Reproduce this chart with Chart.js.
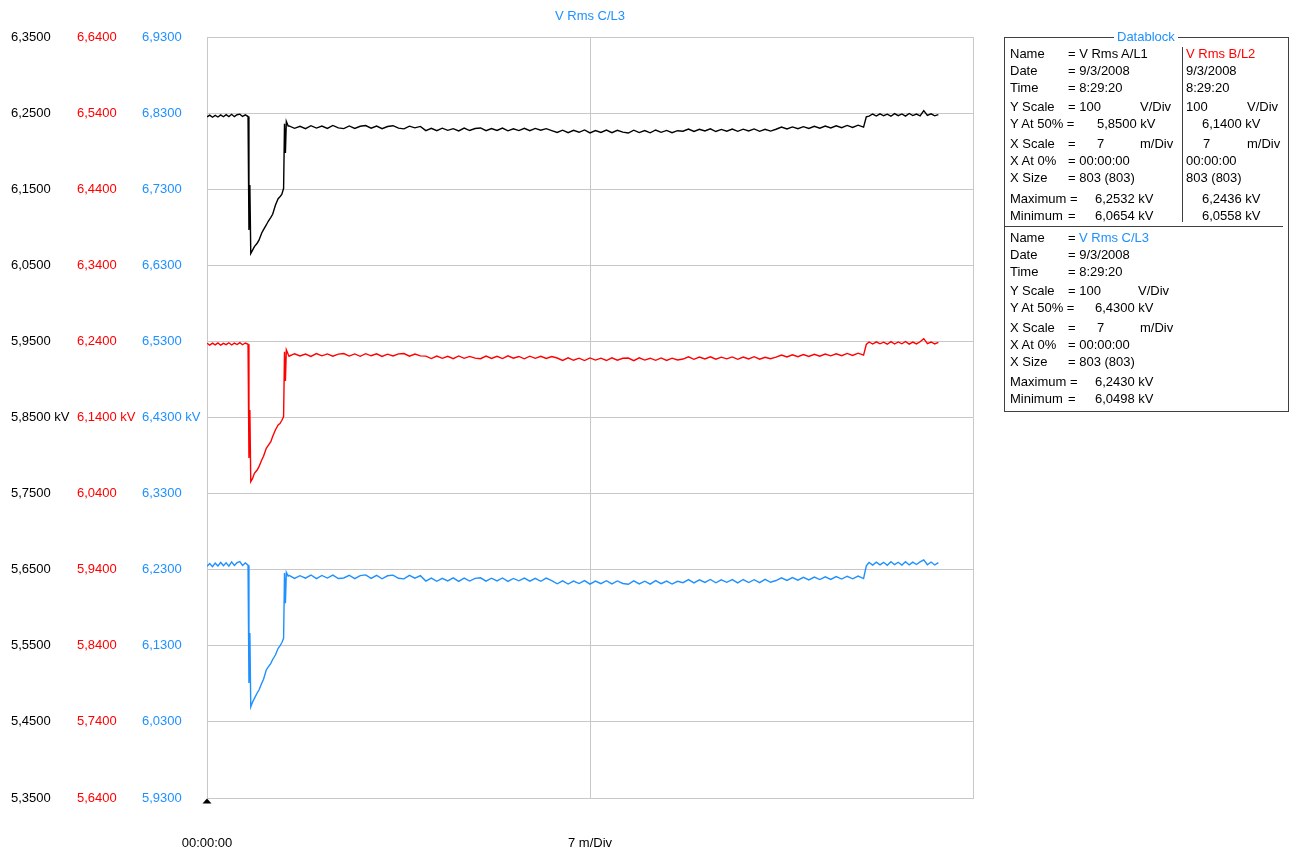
<!DOCTYPE html>
<html>
<head>
<meta charset="utf-8">
<script src="https://cdn.jsdelivr.net/npm/chart.js@4/dist/chart.umd.min.js"></script>
<style>
  html, body { margin: 0; padding: 0; background: #fff; }
  #wrap { position: relative; width: 1298px; height: 852px; }
  #c { position: absolute; left: 0; top: 0; }
  #db { position: absolute; left: 1004px; top: 37px; width: 285px; height: 375px;
        border: 1px solid #404040; box-sizing: border-box; }
  .t { position: absolute; font: 13px "Liberation Sans", Arial, sans-serif; line-height: 16px;
       white-space: nowrap; color: #000; }
  .hl { position: absolute; background: #404040; }
</style>
</head>
<body>
<div id="wrap">
  <canvas id="c" width="1298" height="852"></canvas>
  <div id="db"></div>
</div>
<script>
// ---- time axis (seconds from 00:00:00) ----
const seconds = [
  0,3,6,9,12,15,18,21,24,27,30,33,36,39,42,45,
  46,47,48,50,52,55,57,60,62,65,67,70,72,75,78,80,82,84,
  85,86,87,89,
  90,96,102,108,114,120,126,132,138,144,150,156,162,168,174,180,186,192,198,204,
  210,216,222,228,234,240,246,252,258,264,270,276,282,288,294,300,306,312,318,324,
  330,336,342,348,354,360,366,372,378,384,390,396,402,408,414,420,426,432,438,444,
  450,456,462,468,474,480,486,492,498,504,510,516,522,528,534,540,546,552,558,564,
  570,576,582,588,594,600,606,612,618,624,630,636,642,648,654,660,666,672,678,684,
  690,696,702,708,714,720,
  723,
  726,730,734,738,742,746,750,754,758,762,766,770,774,778,782,786,790,794,798,802
];

// ---- V Rms A/L1 (kV) ----
const voltsA = [
  6.2450,6.2474,6.2446,6.2470,6.2449,6.2477,6.2452,6.2479,6.2455,6.2484,6.2453,6.2478,6.2486,6.2456,6.2476,6.2455,
  6.0964,6.1555,6.0654,6.0700,6.0745,6.0790,6.0830,6.0925,6.0968,6.1030,6.1075,6.1130,6.1170,6.1290,6.1375,6.1400,6.1430,6.1512,
  6.2360,6.1976,6.2390,6.2330,
  6.2332,6.2300,6.2326,6.2296,6.2335,6.2303,6.2329,6.2298,6.2338,6.2305,
  6.2296,6.2331,6.2299,6.2327,6.2336,6.2301,6.2330,6.2295,6.2324,6.2334,
  6.2302,6.2293,6.2328,6.2306,6.2325,
  6.2270,6.2300,6.2268,6.2302,6.2274,6.2296,6.2266,6.2303,6.2271,6.2298,
  6.2305,6.2269,6.2297,6.2272,6.2304,6.2267,6.2294,6.2270,6.2301,6.2268,6.2299,6.2275,6.2296,6.2270,
  6.2245,6.2276,6.2242,6.2273,6.2248,6.2279,6.2240,6.2271,6.2246,6.2277,
  6.2243,6.2274,6.2250,6.2238,6.2275,6.2244,6.2270,6.2241,6.2278,6.2247,6.2272,6.2243,6.2269,
  6.2262,6.2291,6.2259,6.2288,6.2265,6.2293,6.2258,6.2286,6.2263,6.2290,6.2261,6.2289,6.2266,6.2292,6.2260,6.2287,6.2264,
  6.2288,6.2316,6.2291,6.2318,6.2295,6.2322,6.2298,6.2326,6.2302,6.2330,6.2305,6.2334,6.2309,6.2338,6.2312,6.2341,6.2316,
  6.2450,
  6.2460,6.2488,6.2462,6.2490,6.2465,6.2486,6.2459,6.2493,6.2466,6.2489,6.2461,6.2495,6.2468,6.2487,6.2463,6.2532,6.2470,6.2491,6.2464,6.2480
];

// ---- V Rms B/L2 (kV) ----
const voltsB = [
  6.2376,6.2352,6.2378,6.2355,6.2380,6.2350,6.2374,6.2357,6.2382,6.2353,6.2377,6.2359,6.2384,6.2356,6.2379,6.2362,
  6.0868,6.1497,6.0558,6.0600,6.0667,6.0710,6.0754,6.0842,6.0890,6.0996,6.1030,6.1083,6.1150,6.1236,6.1302,6.1320,6.1360,6.1411,
  6.2265,6.1880,6.2290,6.2230,
  6.2205,6.2238,6.2209,6.2234,6.2203,6.2240,6.2210,6.2236,6.2206,6.2233,
  6.2241,6.2207,6.2235,6.2204,6.2239,6.2211,6.2237,6.2202,6.2232,6.2208,
  6.2236,6.2240,6.2206,6.2233,6.2210,
  6.2206,6.2175,6.2208,6.2178,6.2204,6.2173,6.2209,6.2177,6.2203,6.2180,
  6.2172,6.2207,6.2176,6.2205,6.2174,6.2210,6.2179,6.2202,6.2171,6.2206,6.2178,6.2204,6.2175,6.2201,
  6.2182,6.2150,6.2184,6.2152,6.2179,6.2148,6.2183,6.2155,6.2180,6.2149,
  6.2185,6.2153,6.2178,6.2181,6.2147,6.2184,6.2154,6.2179,6.2151,6.2183,6.2149,6.2180,6.2156,
  6.2168,6.2197,6.2165,6.2194,6.2170,6.2198,6.2166,6.2193,6.2171,6.2196,6.2164,6.2195,6.2169,6.2199,6.2167,6.2192,6.2172,
  6.2193,6.2221,6.2196,6.2224,6.2199,6.2227,6.2203,6.2231,6.2206,6.2234,6.2210,6.2238,6.2213,6.2242,6.2216,6.2245,6.2220,
  6.2360,
  6.2392,6.2365,6.2394,6.2368,6.2390,6.2363,6.2397,6.2366,6.2393,6.2369,6.2399,6.2364,6.2391,6.2367,6.2395,6.2436,6.2370,6.2392,6.2366,6.2388
];

// ---- V Rms C/L3 (kV) ----
const voltsC = [
  6.2345,6.2380,6.2340,6.2386,6.2350,6.2395,6.2352,6.2390,6.2347,6.2402,6.2355,6.2392,6.2405,6.2356,6.2388,6.2360,
  6.0811,6.1468,6.0498,6.0560,6.0610,6.0680,6.0719,6.0807,6.0860,6.0982,6.1020,6.1070,6.1120,6.1179,6.1267,6.1300,6.1340,6.1399,
  6.2257,6.1860,6.2265,6.2215,
  6.2226,6.2185,6.2221,6.2188,6.2230,6.2183,6.2224,6.2190,6.2228,6.2184,
  6.2191,6.2227,6.2182,6.2223,6.2232,6.2186,6.2225,6.2181,6.2220,6.2229,
  6.2187,6.2180,6.2226,6.2189,6.2222,
  6.2150,6.2190,6.2148,6.2187,6.2153,6.2192,6.2146,6.2189,6.2151,6.2186,
  6.2193,6.2149,6.2188,6.2152,6.2191,6.2147,6.2185,6.2154,6.2190,6.2150,6.2187,6.2148,6.2189,6.2155,
  6.2115,6.2154,6.2112,6.2151,6.2118,6.2157,6.2110,6.2150,6.2116,6.2155,
  6.2113,6.2152,6.2119,6.2108,6.2153,6.2114,6.2149,6.2111,6.2156,6.2117,6.2151,6.2112,6.2148,
  6.2130,6.2170,6.2127,6.2167,6.2133,6.2172,6.2128,6.2166,6.2134,6.2169,6.2126,6.2171,6.2131,6.2168,6.2129,6.2173,6.2135,
  6.2158,6.2194,6.2160,6.2197,6.2163,6.2200,6.2166,6.2203,6.2170,6.2207,6.2173,6.2210,6.2177,6.2214,6.2180,6.2217,6.2184,
  6.2350,
  6.2395,6.2360,6.2400,6.2364,6.2397,6.2358,6.2404,6.2366,6.2398,6.2361,6.2406,6.2363,6.2399,6.2368,6.2402,6.2430,6.2365,6.2401,6.2362,6.2394
];

// ---- axis ranges (kV) and x ticks ----
const rangeA = [5.35, 6.35];
const rangeB = [5.64, 6.64];
const rangeC = [5.93, 6.93];
const xRange = [0, 840];           // 2 divisions of 7 min
const xTickLabels = ['00:00:00', '7 m/Div', ''];

const BLACK = '#000000', RED = '#ff0000', BLUE = '#1e90ff', GRID = '#c8c8c8';
const FONT = { family: '"Liberation Sans", Arial, sans-serif', size: 13, weight: 'normal' };

function pts(vals) { return seconds.map((s, i) => ({ x: s, y: vals[i] })); }
function fmt(v, i) {
  const s = v.toFixed(4).replace('.', ',');
  return i === 5 ? s + ' kV' : s;
}
function yAxis(range, color, weight, width, showGrid) {
  return {
    type: 'linear', position: 'left', weight: weight,
    min: range[0], max: range[1],
    afterFit: (sc) => { sc.width = width; },
    border: { display: showGrid, color: GRID },
    grid: { display: showGrid, color: GRID, drawTicks: false, lineWidth: 1 },
    ticks: { stepSize: 0.1, color: color, font: FONT, padding: 0, crossAlign: 'far',
             callback: (v, i) => fmt(v, i) }
  };
}

const marker = {
  id: 'marker',
  afterDraw(chart) {
    const ctx = chart.ctx, x = chart.scales.x.getPixelForValue(0), y = chart.chartArea.bottom;
    ctx.save();
    ctx.fillStyle = '#000';
    ctx.beginPath();
    ctx.moveTo(x, y + 0.5); ctx.lineTo(x - 4.5, y + 5.5); ctx.lineTo(x + 4.5, y + 5.5);
    ctx.closePath(); ctx.fill();
    ctx.restore();
  }
};

new Chart(document.getElementById('c'), {
  type: 'line',
  data: {
    datasets: [
      { label: 'V Rms A/L1', data: pts(voltsA), yAxisID: 'yA', borderColor: BLACK, borderWidth: 1.4, pointRadius: 0, tension: 0 },
      { label: 'V Rms B/L2', data: pts(voltsB), yAxisID: 'yB', borderColor: RED, borderWidth: 1.4, pointRadius: 0, tension: 0 },
      { label: 'V Rms C/L3', data: pts(voltsC), yAxisID: 'yC', borderColor: BLUE, borderWidth: 1.4, pointRadius: 0, tension: 0 }
    ]
  },
  options: {
    responsive: false, animation: false,
    layout: { padding: { left: 11, right: 325, top: 0, bottom: 0 } },
    plugins: {
      legend: { display: false },
      tooltip: { enabled: false },
      title: { display: true, text: 'V Rms C/L3', color: BLUE, font: FONT, fullSize: false,
               padding: { top: 9, bottom: 12.4 } }
    },
    scales: {
      x: {
        type: 'linear', min: xRange[0], max: xRange[1],
        afterFit: (sc) => { sc.height = 54; },
        border: { display: true, color: GRID },
        grid: { color: GRID, drawTicks: false },
        ticks: { stepSize: 420, color: '#000', font: FONT, padding: 38, maxRotation: 0, autoSkip: false,
                 callback: (v, i) => xTickLabels[i] }
      },
      yA: yAxis(rangeA, BLACK, 3, 66, false),
      yB: yAxis(rangeB, RED, 2, 65, false),
      yC: yAxis(rangeC, BLUE, 1, 65, true)
    }
  },
  plugins: [marker]
});

// ---- Datablock ----
const dbTexts = [
  // [text, x, y, color]  (page coordinates of text left / vertical centre)
  ['Name', 1010, 54], ['= V Rms A/L1', 1068, 54], ['V Rms B/L2', 1186, 54, RED],
  ['Date', 1010, 71], ['= 9/3/2008', 1068, 71], ['9/3/2008', 1186, 71],
  ['Time', 1010, 88], ['= 8:29:20', 1068, 88], ['8:29:20', 1186, 88],
  ['Y Scale', 1010, 107], ['= 100', 1068, 107], ['V/Div', 1140, 107], ['100', 1186, 107], ['V/Div', 1247, 107],
  ['Y At 50% =', 1010, 124], ['5,8500 kV', 1097, 124], ['6,1400 kV', 1202, 124],
  ['X Scale', 1010, 144], ['=', 1068, 144], ['7', 1097, 144], ['m/Div', 1140, 144], ['7', 1203, 144], ['m/Div', 1247, 144],
  ['X At 0%', 1010, 161], ['= 00:00:00', 1068, 161], ['00:00:00', 1186, 161],
  ['X Size', 1010, 178], ['= 803 (803)', 1068, 178], ['803 (803)', 1186, 178],
  ['Maximum =', 1010, 199], ['6,2532 kV', 1095, 199], ['6,2436 kV', 1202, 199],
  ['Minimum', 1010, 216], ['=', 1068, 216], ['6,0654 kV', 1095, 216], ['6,0558 kV', 1202, 216],
  ['Name', 1010, 238], ['= ', 1068, 238], ['V Rms C/L3', 1079, 238, BLUE],
  ['Date', 1010, 255], ['= 9/3/2008', 1068, 255],
  ['Time', 1010, 272], ['= 8:29:20', 1068, 272],
  ['Y Scale', 1010, 291], ['= 100', 1068, 291], ['V/Div', 1138, 291],
  ['Y At 50% =', 1010, 308], ['6,4300 kV', 1095, 308],
  ['X Scale', 1010, 328], ['=', 1068, 328], ['7', 1097, 328], ['m/Div', 1140, 328],
  ['X At 0%', 1010, 345], ['= 00:00:00', 1068, 345],
  ['X Size', 1010, 362], ['= 803 (803)', 1068, 362],
  ['Maximum =', 1010, 382], ['6,2430 kV', 1095, 382],
  ['Minimum', 1010, 399], ['=', 1068, 399], ['6,0498 kV', 1095, 399]
];
const wrap = document.getElementById('wrap');
for (const [txt, x, y, col] of dbTexts) {
  const d = document.createElement('div');
  d.className = 't';
  d.textContent = txt;
  d.style.left = x + 'px';
  d.style.top = (y - 8) + 'px';
  if (col) d.style.color = col;
  wrap.appendChild(d);
}
// separator lines
function hl(x, y, w, h) {
  const d = document.createElement('div'); d.className = 'hl';
  d.style.left = x + 'px'; d.style.top = y + 'px'; d.style.width = w + 'px'; d.style.height = h + 'px';
  wrap.appendChild(d);
}
hl(1182, 47, 1, 175);
hl(1005, 226, 278, 1);
// title of the datablock, sitting on the border
const ttl = document.createElement('div');
ttl.className = 't';
ttl.textContent = 'Datablock';
ttl.style.left = '1114px'; ttl.style.top = '29px'; ttl.style.color = BLUE;
ttl.style.background = '#fff'; ttl.style.padding = '0 3px';
wrap.appendChild(ttl);
</script>
</body>
</html>
